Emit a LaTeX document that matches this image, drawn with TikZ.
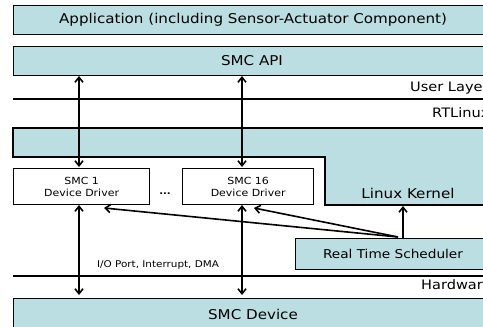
\documentclass[tikz,border=0pt]{standalone}
\usepackage{fontspec}
\setmainfont[FakeStretch=1.12]{DejaVu Sans}
\usetikzlibrary{arrows.meta}
\definecolor{tealbox}{RGB}{186,222,225}
\begin{document}
\begin{tikzpicture}[x=1pt,y=-1pt,
  layer/.style={draw=black,line width=1.3pt,fill=tealbox,anchor=north west,inner sep=0pt},
  drv/.style={draw=black,line width=1.3pt,fill=white,anchor=north west,inner sep=0pt,align=center,font=\fontsize{9.8}{12}\selectfont},
  lbl/.style={font=\fontsize{13}{15}\selectfont,anchor=west,inner sep=0pt},
  big/.style={font=\fontsize{13.5}{15}\selectfont},
  sep/.style={line width=1.2pt},
  arr/.style={line width=1.6pt,-{Straight Barb[length=5pt,width=8pt]}},
  dbl/.style={line width=1.6pt,{Straight Barb[length=5pt,width=8pt]}-{Straight Barb[length=5pt,width=8pt]}}]
\useasboundingbox (0,0) rectangle (483,327);
\clip (0,0) rectangle (483,327);
% layers
\node[layer,minimum width=480pt,minimum height=29pt] (app) at (13,5) {};
\node[big] (apptxt) at (253,20) {Application (including Sensor-Actuator Component)};
\node[layer,minimum width=480pt,minimum height=29pt] (api) at (13,46) {};
\node[big] (apitxt) at (252,61) {SMC API};
% separator lines
\coordinate (u0) at (13,99); \coordinate (u1) at (490,99);
\draw[sep] (u0) -- (u1);
\node[lbl] (user) at (410,88) {User Layer};
\node[lbl] (rtl) at (432,113) {RTLinux};
% kernel region
\draw[line width=1.3pt,fill=tealbox] (13,128) -- (490,128) -- (490,205) -- (325,205) -- (325,157) -- (13,157) -- cycle;
\node[big] (kernel) at (408,193) {Linux Kernel};
% drivers
\node[drv,minimum width=136pt,minimum height=36pt] (d1) at (13,168) {SMC 1\\Device Driver};
\node[drv,minimum width=131pt,minimum height=36pt] (d16) at (182,168) {SMC 16\\Device Driver};
\node[font=\bfseries\fontsize{9}{10}\selectfont] (dots) at (165,194) {...};
% scheduler
\node[layer,minimum width=200pt,minimum height=31pt] (rts) at (295,238) {};
\node[font=\fontsize{12.2}{14}\selectfont] (rtstxt) at (393,254) {Real Time Scheduler};
% hardware line
\coordinate (h0) at (13,276); \coordinate (h1) at (490,276);
\draw[sep] (h0) -- (h1);
\node[lbl] (hw) at (421,285) {Hardware};
\node[font=\fontsize{9.3}{11}\selectfont] (io) at (158,265) {I/O Port, Interrupt, DMA};
% device
\node[layer,minimum width=480pt,minimum height=30pt] (dev) at (13,298) {};
\node[big] (devtxt) at (253,314) {SMC Device};
% arrows
\coordinate (a1t) at (79,76); \coordinate (a1b) at (79,167);
\coordinate (a2t) at (242,76); \coordinate (a2b) at (242,167);
\draw[dbl] (a1t) -- (a1b);
\draw[dbl] (a2t) -- (a2b);
\coordinate (b1t) at (79,205); \coordinate (b1b) at (79,295);
\coordinate (b2t) at (242,205); \coordinate (b2b) at (242,295);
\draw[dbl] (b1t) -- (b1b);
\draw[dbl] (b2t) -- (b2b);
\coordinate (rs) at (398,237);
\coordinate (t1) at (104,208); \coordinate (t2) at (254,208);
\draw[arr] (rs) -- (t1);
\draw[arr] (rs) -- (t2);
\coordinate (rk0) at (403,238); \coordinate (rk1) at (403,206);
\draw[arr] (rk0) -- (rk1);
\end{tikzpicture}
\end{document}
